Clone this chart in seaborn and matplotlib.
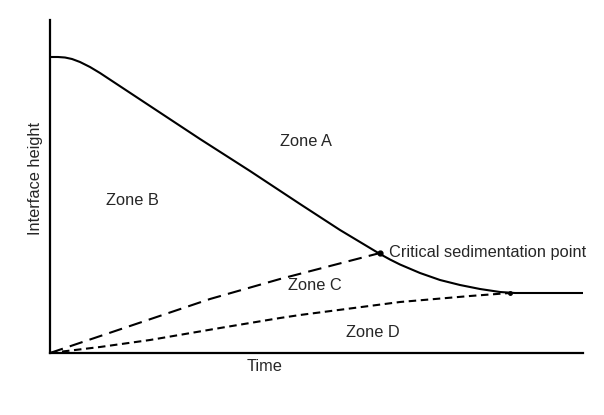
import numpy as np
import pandas as pd
import seaborn as sns
from matplotlib import pyplot as plt

sns.set_style("white")
plt.rcParams['font.family'] = ['Liberation Sans', 'DejaVu Sans']

# interface height curve (solid)
t_interface = [0, 8, 15, 22, 30, 40, 50, 100, 150, 200, 250, 290, 330, 340, 350, 370,
               390, 410, 430, 450, 465, 533]
h_interface = [296, 296, 295.5, 294, 291, 286, 280, 247, 214, 182, 149, 123, 99, 93.5, 88.5, 80,
               73, 68, 64, 61, 60, 60]

# zone C upper boundary (long dashes)
t_zone_c = [0, 80, 160, 230, 330]
h_zone_c = [0, 27, 54, 74, 100]

# zone D upper boundary (short dashes)
t_zone_d = [0, 50, 100, 170, 230, 250, 350, 420, 460]
h_zone_d = [0, 6, 13, 25, 35, 38, 51, 57, 60]

critical_t, critical_h = 330, 100
end_t, end_h = 460, 60

fig = plt.figure(figsize=(6.04, 4.15), dpi=100)
ax = fig.add_axes([50/604, 62/415, 533/604, 333/415])

sns.lineplot(x=t_interface, y=h_interface, ax=ax, color='black', lw=1.5)
sns.lineplot(x=t_zone_c, y=h_zone_c, ax=ax, color='black', lw=1.5)
ax.lines[-1].set_dashes([6.5, 3.5])
sns.lineplot(x=t_zone_d, y=h_zone_d, ax=ax, color='black', lw=1.5)
ax.lines[-1].set_dashes([3.6, 2.2])

ax.plot([critical_t], [critical_h], 'o', color='black', ms=3.5)
ax.plot([end_t], [end_h], 'o', color='black', ms=2.5)

ax.set_xlim(0, 533)
ax.set_ylim(0, 333)
ax.set_xticks([])
ax.set_yticks([])
sns.despine(ax=ax)
for s in ['left', 'bottom']:
    ax.spines[s].set_color('black')
    ax.spines[s].set_linewidth(1.6)

fs = 11.8
ax.text(256, 212, "Zone A", fontsize=fs, ha='center', va='center')
ax.text(82, 153, "Zone B", fontsize=fs, ha='center', va='center')
ax.text(265, 67, "Zone C", fontsize=fs, ha='center', va='center')
ax.text(323, 21, "Zone D", fontsize=fs, ha='center', va='center')
ax.text(339, 101, "Critical sedimentation point", fontsize=fs, ha='left', va='center')
ax.set_xlabel("Time", fontsize=fs)
ax.xaxis.set_label_coords(215/533, -0.018)
ax.set_ylabel("Interface height", fontsize=fs)
ax.yaxis.set_label_coords(-0.013, 0.525)

fig.savefig("out.png", dpi=100)
